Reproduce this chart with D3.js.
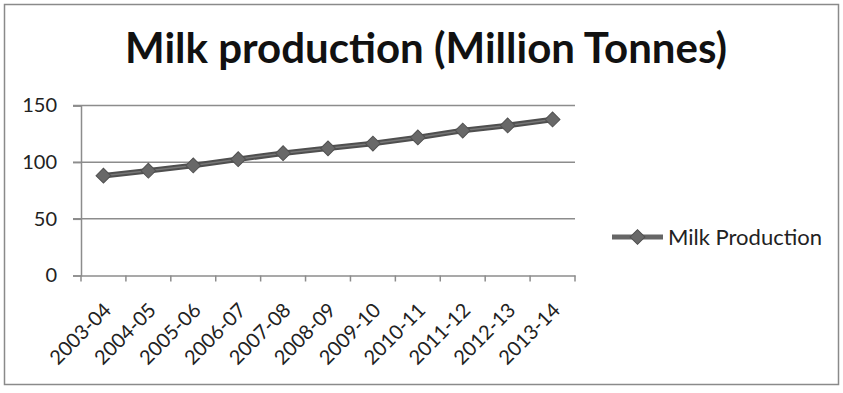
<!DOCTYPE html>
<html><head><meta charset="utf-8">
<script src="https://cdn.jsdelivr.net/npm/d3@7"></script>
<style>body{margin:0;background:#fff}svg{display:block}</style>
</head><body>
<script>
const categories = ["2003-04","2004-05","2005-06","2006-07","2007-08","2008-09","2009-10","2010-11","2011-12","2012-13","2013-14"];
const milkProduction = [88.1,92.5,97.1,102.6,107.9,112.2,116.4,121.8,127.9,132.4,137.7];
const yTicks = [0,50,100,150];
const seriesName = "Milk Production";
const title = "Milk production (Million Tonnes)";

const W = 843, H = 393;
const svg = d3.select("body").append("svg").attr("width", W).attr("height", H);
const font = "Lato, 'Open Sans', sans-serif";

svg.append("rect").attr("x",4.5).attr("y",4.5).attr("width",834).attr("height",380)
  .attr("fill","#fff").attr("stroke","#8a8a8a").attr("stroke-width",1.5);

svg.append("text").attr("x",426).attr("y",63).attr("text-anchor","middle")
  .attr("font-family",font).attr("font-weight","bold").attr("font-size",42)
  .attr("fill","#111").text(title);

const x = d3.scaleBand().domain(categories).range([81,575]);
const y = d3.scaleLinear().domain([0,150]).range([275.5,105.5]);

// gridlines
svg.append("g").selectAll("line").data(yTicks.filter(d=>d>0)).join("line")
  .attr("x1",73).attr("x2",575).attr("y1",d=>y(d)).attr("y2",d=>y(d))
  .attr("stroke","#8c8c8c").attr("stroke-width",1.5);

// y axis
const ya = svg.append("g").attr("transform","translate(81,0)")
  .call(d3.axisLeft(y).tickValues(yTicks).tickSize(8).tickPadding(16));
ya.select(".domain").attr("stroke","#8c8c8c").attr("stroke-width",1.5);
ya.selectAll(".tick line").attr("stroke","#8c8c8c").attr("stroke-width",1.5);
ya.selectAll("text").attr("font-family",font).attr("font-size",20).attr("fill","#222");

// x axis
const xa = svg.append("g").attr("transform","translate(0,275.5)")
  .call(d3.axisBottom(x).tickSizeOuter(0).tickSize(0));
xa.select(".domain").attr("stroke","#8c8c8c").attr("stroke-width",1.5);
xa.selectAll(".tick text").remove();
xa.selectAll(".tick line").remove();
const bounds = categories.map(c=>x(c)).concat([x.range()[1]]);
xa.selectAll("line.tk").data(bounds).join("line").attr("class","tk")
  .attr("x1",d=>d).attr("x2",d=>d).attr("y1",0).attr("y2",6)
  .attr("stroke","#8c8c8c").attr("stroke-width",1.5);
xa.selectAll("text.lbl").data(categories).join("text").attr("class","lbl")
  .attr("transform",d=>`translate(${x(d)+x.bandwidth()/2+4},${31}) rotate(-45)`)
  .attr("text-anchor","end").attr("dy","0.35em")
  .attr("font-family",font).attr("font-size",20).attr("fill","#222").text(d=>d);

// line
const line = d3.line().x((d,i)=>x(categories[i])+x.bandwidth()/2).y(d=>y(d));
svg.append("path").datum(milkProduction).attr("d",line)
  .attr("fill","none").attr("stroke","#4f4f4f").attr("stroke-width",5.5);
svg.append("path").datum(milkProduction).attr("d",line)
  .attr("fill","none").attr("stroke","#777").attr("stroke-width",1.5);

svg.append("g").selectAll("path").data(milkProduction).join("path")
  .attr("d",d3.symbol().type(d3.symbolSquare).size(110))
  .attr("transform",(d,i)=>`translate(${x(categories[i])+x.bandwidth()/2},${y(d)}) rotate(45)`)
  .attr("fill","#686868").attr("stroke","#505050").attr("stroke-width",1);

// legend
const lg = svg.append("g").attr("transform","translate(612,237)");
lg.append("line").attr("x1",0).attr("x2",51).attr("y1",0).attr("y2",0)
  .attr("stroke","#666").attr("stroke-width",5);
lg.append("path").attr("d",d3.symbol().type(d3.symbolSquare).size(110)())
  .attr("transform","translate(25.5,0) rotate(45)").attr("fill","#686868").attr("stroke","#505050");
lg.append("text").attr("x",56).attr("y",0).attr("dy","0.35em")
  .attr("font-family",font).attr("font-size",22).attr("fill","#222").text(seriesName);
</script>
</body></html>
